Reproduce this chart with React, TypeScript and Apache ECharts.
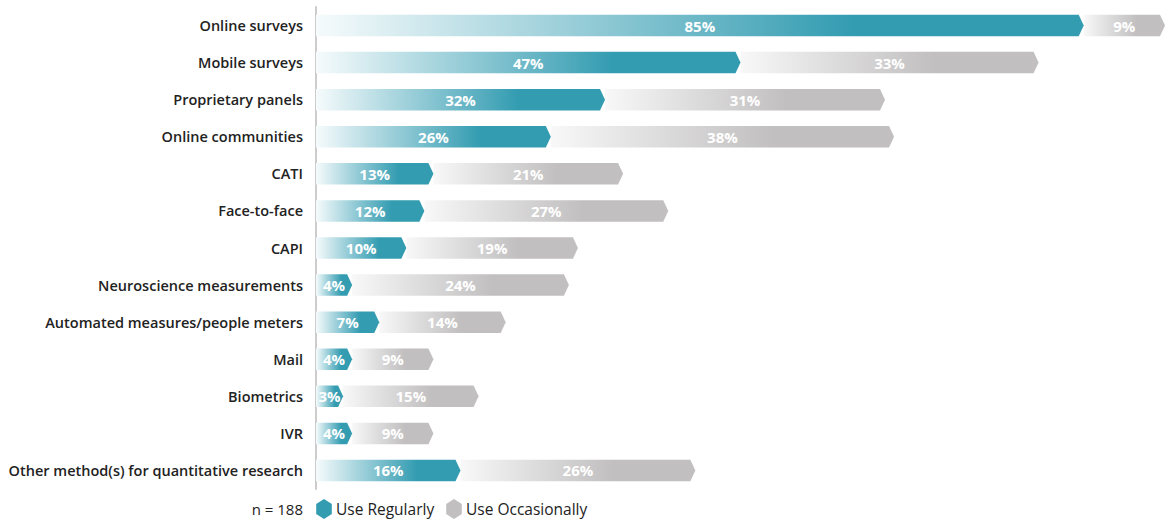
import React, { useEffect, useRef } from "react";
import * as echarts from "echarts";

const categories = [
  "Online surveys",
  "Mobile surveys",
  "Proprietary panels",
  "Online communities",
  "CATI",
  "Face-to-face",
  "CAPI",
  "Neuroscience measurements",
  "Automated measures/people meters",
  "Mail",
  "Biometrics",
  "IVR",
  "Other method(s) for quantitative research",
];
const useRegularly = [85, 47, 32, 26, 13, 12, 10, 4, 7, 4, 3, 4, 16];
const useOccasionally = [9, 33, 31, 38, 21, 27, 19, 24, 14, 9, 15, 9, 26];
const sampleNote = "n = 188";
const legendNames = ["Use Regularly", "Use Occasionally"];

const TEAL = "#339cb1";
const GREY = "#c1bfc0";
const FONT = "'Open Sans', sans-serif";

function makeRender(kind: "blue" | "grey") {
  return (params: any, api: any) => {
    const cat = api.value(0);
    const start = api.value(1);
    const end = api.value(2);
    const label = api.value(3);
    const p0 = api.coord([start, cat]);
    const p1 = api.coord([end, cat]);
    const band = api.size([0, 1])[1];
    const h = band * 0.58;
    const d = 5;
    const y = p0[1];
    const x0 = p0[0];
    const x1 = p1[0];
    const fill =
      kind === "blue"
        ? new echarts.graphic.LinearGradient(0, 0, 1, 0, [
            { offset: 0, color: "#f6fbfc" },
            { offset: 0.7, color: TEAL },
            { offset: 1, color: TEAL },
          ])
        : new echarts.graphic.LinearGradient(0, 0, 1, 0, [
            { offset: 0, color: "#f8f8f8" },
            { offset: 0.65, color: GREY },
            { offset: 1, color: GREY },
          ]);
    return {
      type: "group",
      children: [
        {
          type: "polygon",
          shape: {
            points: [
              [x0, y - h / 2],
              [x1 - d, y - h / 2],
              [x1, y],
              [x1 - d, y + h / 2],
              [x0, y + h / 2],
            ],
          },
          style: { fill },
        },
        {
          type: "text",
          style: {
            text: label + "%",
            x: (x0 + x1) / 2,
            y: y,
            align: "center",
            verticalAlign: "middle",
            fill: "#ffffff",
            font: `bold 15px ${FONT}`,
          },
        },
      ],
    };
  };
}

export default function App() {
  const ref = useRef<HTMLDivElement>(null);
  useEffect(() => {
    if (!ref.current) return;
    const chart = echarts.init(ref.current, undefined, { renderer: "svg" });
    const blueData = categories.map((c, i) => [i, 0, useRegularly[i], useRegularly[i]]);
    const greyData = categories.map((c, i) => [
      i,
      useRegularly[i],
      useRegularly[i] + useOccasionally[i],
      useOccasionally[i],
    ]);
    const hex = (cx: number, cy: number) => {
      const r = 10;
      const pts: number[][] = [];
      for (let k = 0; k < 6; k++) {
        const a = (Math.PI / 3) * k - Math.PI / 2;
        pts.push([cx + r * Math.cos(a) * 0.9, cy + r * Math.sin(a)]);
      }
      return pts;
    };
    chart.setOption({
      animation: false,
      grid: { left: 316, right: 2, top: 7, height: 482, containLabel: false },
      xAxis: {
        type: "value",
        min: 0,
        max: 94,
        show: false,
      },
      yAxis: {
        type: "category",
        data: categories,
        inverse: true,
        axisTick: { show: false },
        axisLine: { show: true, lineStyle: { color: "#cccccc", width: 2 } },
        axisLabel: {
          margin: 13,
          color: "#222222",
          fontWeight: 600,
          fontSize: 14.5,
          fontFamily: FONT,
        },
        splitLine: { show: false },
      },
      series: [
        {
          type: "custom",
          name: legendNames[1],
          renderItem: makeRender("grey"),
          encode: { x: [1, 2], y: 0 },
          data: greyData,
          z: 2,
        },
        {
          type: "custom",
          name: legendNames[0],
          renderItem: makeRender("blue"),
          encode: { x: [1, 2], y: 0 },
          data: blueData,
          z: 3,
        },
      ],
      graphic: [
        {
          type: "text",
          style: {
            text: sampleNote,
            x: 303,
            y: 509,
            align: "right",
            verticalAlign: "middle",
            fill: "#222222",
            font: `15px ${FONT}`,
          },
        },
        { type: "polygon", shape: { points: hex(324, 509) }, style: { fill: TEAL } },
        {
          type: "text",
          style: {
            text: legendNames[0],
            x: 336,
            y: 509,
            align: "left",
            verticalAlign: "middle",
            fill: "#222222",
            font: `15.5px ${FONT}`,
          },
        },
        { type: "polygon", shape: { points: hex(454, 509) }, style: { fill: GREY } },
        {
          type: "text",
          style: {
            text: legendNames[1],
            x: 466,
            y: 509,
            align: "left",
            verticalAlign: "middle",
            fill: "#222222",
            font: `15.5px ${FONT}`,
          },
        },
      ],
    });
    return () => chart.dispose();
  }, []);
  return (
    <div
      ref={ref}
      style={{ position: "absolute", left: 0, top: 0, width: 1167, height: 519 }}
    />
  );
}
